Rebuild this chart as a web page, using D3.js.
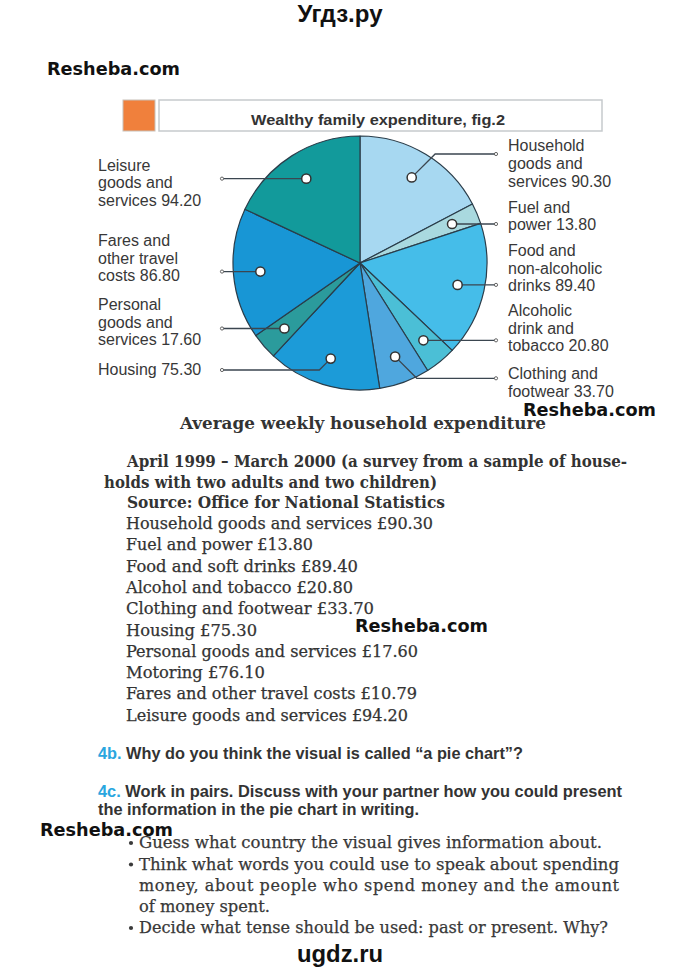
<!DOCTYPE html>
<html><head><meta charset="utf-8">
<script src="https://cdn.jsdelivr.net/npm/d3@7"></script>
<style>
html,body{margin:0;padding:0;background:#fff;}
svg{display:block;}
</style></head>
<body>
<svg id="c" width="680" height="975"></svg>
<script>
// ---- data ----
const categories = ["Household goods and services","Fuel and power","Food and non-alcoholic drinks","Alcoholic drink and tobacco","Clothing and footwear","Housing","Personal goods and services","Fares and other travel costs","Leisure goods and services"];
const values = [90.30, 13.80, 89.40, 20.80, 33.70, 75.30, 17.60, 86.80, 94.20];
const labelStems = [["Household","goods and","services"],["Fuel and","power"],["Food and","non-alcoholic","drinks"],["Alcoholic","drink and","tobacco"],["Clothing and","footwear"],["Housing"],["Personal","goods and","services"],["Fares and","other travel","costs"],["Leisure","goods and","services"]];
const tableCategories = ["Household goods and services","Fuel and power","Food and soft drinks","Alcohol and tobacco","Clothing and footwear","Housing","Personal goods and services","Motoring","Fares and other travel costs","Leisure goods and services"];
const tableValues = [90.30, 13.80, 89.40, 20.80, 33.70, 75.30, 17.60, 76.10, 10.79, 94.20];
const chartTitle = "Wealthy family expenditure, fig.2";
const tableTitle = "Average weekly household expenditure";
const introLines = ["April 1999 \u2013 March 2000 (a survey from a sample of house-","holds with two adults and two children)","Source: Office for National Statistics"];
const bulletLines = ["Guess what country the visual gives information about.","Think what words you could use to speak about spending","money, about people who spend money and the amount","of money spent.","Decide what tense should be used: past or present. Why?"];

// ---- styles / layout ----
const sliceColors = ["#a7d8f1","#a9d9df","#45bde9","#4bbfd6","#4fa7de","#1c9bd8","#2b9b9c","#1896d5","#129a9b"];
const labelLayout = [
  {y0:151.3, ly:154},{y0:212.7},{y0:256},{y0:316},{y0:379.3, ly:378.3},
  {y0:375, ly:370},{y0:310},{y0:246},{y0:170.7}
];
const listWidths = [307,187,232,227,248,131,292,139,291,282];

const svg = d3.select("#c");
const sans = "'Liberation Sans', Arial, sans-serif";
const serif = "'DejaVu Serif', serif";

function fit(sel, w, adj){ sel.attr("textLength", w).attr("lengthAdjust", adj || "spacingAndGlyphs"); return sel; }

// header / footer
fit(svg.append("text").attr("x",340).attr("y",22).attr("text-anchor","middle")
  .style("font-family",sans).style("font-weight","bold").style("font-size","24px").attr("fill","#111").text("Угдз.ру"),85);
fit(svg.append("text").attr("x",340).attr("y",962).attr("text-anchor","middle")
  .style("font-family",sans).style("font-weight","bold").style("font-size","24px").attr("fill","#111").text("ugdz.ru"),86);

// title box
svg.append("rect").attr("x",123).attr("y",100).attr("width",32).attr("height",31).attr("fill","#f0803c").attr("stroke","#c8c0b8").attr("stroke-width",1);
svg.append("rect").attr("x",159).attr("y",100).attr("width",443).attr("height",31).attr("fill","#fff").attr("stroke","#c6cacd").attr("stroke-width",1.5);
fit(svg.append("text").attr("x",378).attr("y",125).attr("text-anchor","middle")
  .style("font-family",sans).style("font-weight","bold").style("font-size","14px").attr("fill","#333").text(chartTitle),254);

// pie
const cx = 360, cy = 263, R = 127;
const data = categories.map((c,i)=>({cat:c, value:values[i], stem:labelStems[i], color:sliceColors[i], lay:labelLayout[i]}));
const pie = d3.pie().sort(null).value(d=>d.value);
const arcs = pie(data);
const arc = d3.arc().innerRadius(0).outerRadius(R);
const dotArc = d3.arc().innerRadius(100).outerRadius(100);
const g = svg.append("g").attr("transform",`translate(${cx},${cy})`);
g.selectAll("path.slice").data(arcs).join("path").attr("class","slice")
  .attr("d",arc).attr("fill",d=>d.data.color).attr("stroke","#2a3d4a").attr("stroke-width",1.2).attr("stroke-linejoin","round");

const fmt = d3.format(".2f");
const lineH = 17.7;
arcs.forEach(a=>{
  const mid = (a.startAngle+a.endAngle)/2;
  const side = mid < Math.PI ? 1 : -1;
  const [dx,dy] = dotArc.centroid(a);
  const px = cx+dx, py = cy+dy;
  const endX = side>0 ? 496 : 222;
  const ly = a.data.lay.ly;
  let pts;
  if (ly !== undefined){
    const ex = px + side*Math.abs(ly-py);
    pts = [[px,py],[ex,ly],[endX,ly]];
  } else pts = [[px,py],[endX,py]];
  svg.append("path").attr("d",d3.line()(pts)).attr("fill","none").attr("stroke","#3b4650").attr("stroke-width",1.3);
  svg.append("circle").attr("cx",endX).attr("cy",pts[pts.length-1][1]).attr("r",1.6).attr("fill","#fff").attr("stroke","#555").attr("stroke-width",0.9);
  svg.append("circle").attr("cx",px).attr("cy",py).attr("r",4.6).attr("fill","#fff").attr("stroke","#333").attr("stroke-width",1.5);
  const tx = side>0 ? 508 : 98;
  const t = svg.append("text").style("font-family",sans).style("font-size","16px").attr("fill","#383838");
  const stems = a.data.stem;
  stems.forEach((s,j)=>{
    t.append("tspan").attr("x",tx).attr("y",a.data.lay.y0 + j*lineH)
      .text(j===stems.length-1 ? s+" "+fmt(a.data.value) : s);
  });
});

// table text
fit(svg.append("text").attr("x",363).attr("y",429).attr("text-anchor","middle")
  .style("font-family",serif).style("font-weight","bold").style("font-size","16px").attr("fill","#333").text(tableTitle),366);
const introX = [127,104,127], introY=[467,487.5,508], introW=[500,333,318];
introLines.forEach((s,i)=>{
  fit(svg.append("text").attr("x",introX[i]).attr("y",introY[i])
    .style("font-family",serif).style("font-weight","bold").style("font-size","16px").attr("fill","#333").text(s),introW[i]);
});
tableCategories.forEach((c,i)=>{
  fit(svg.append("text").attr("x",126).attr("y",529+i*21.3)
    .style("font-family",serif).style("font-size","16px").attr("fill","#333").attr("stroke","#333").attr("stroke-width",0.25)
    .text(c+" £"+fmt(tableValues[i])),listWidths[i]);
});

// 4b / 4c
function qline(y, num, rest, w){
  const t = svg.append("text").attr("x",98).attr("y",y).style("font-family",sans).style("font-weight","bold").style("font-size","16.5px").attr("fill","#333");
  if (num) t.append("tspan").attr("fill","#2aa6df").text(num+" ");
  t.append("tspan").text(rest);
  fit(t,w);
}
qline(759,"4b.","Why do you think the visual is called \u201ca pie chart\u201d?",425);
qline(797,"4c.","Work in pairs. Discuss with your partner how you could present",524);
qline(815,null,"the information in the pie chart in writing.",321);

// bullets
const bulletY=[848,869.5,890.5,911.5,933], bulletW=[463,480,480,131,469], hasBullet=[1,1,0,0,1];
bulletLines.forEach((s,i)=>{
  if (hasBullet[i]) svg.append("circle").attr("cx",131).attr("cy",bulletY[i]-5).attr("r",2.1).attr("fill","#3a3a3a");
  fit(svg.append("text").attr("x",139).attr("y",bulletY[i])
    .style("font-family",serif).style("font-size","16px").attr("fill","#383838").attr("stroke","#383838").attr("stroke-width",0.25)
    .text(s),bulletW[i], i===2?"spacing":"spacingAndGlyphs");
});

// watermarks
[[47,75],[523,416],[355,632],[40,836]].forEach(p=>{
  fit(svg.append("text").attr("x",p[0]).attr("y",p[1]).style("font-family","'DejaVu Sans', sans-serif").style("font-weight","bold").style("font-size","18px").attr("fill","#111").text("Resheba.com"),133);
});
</script>
</body></html>
